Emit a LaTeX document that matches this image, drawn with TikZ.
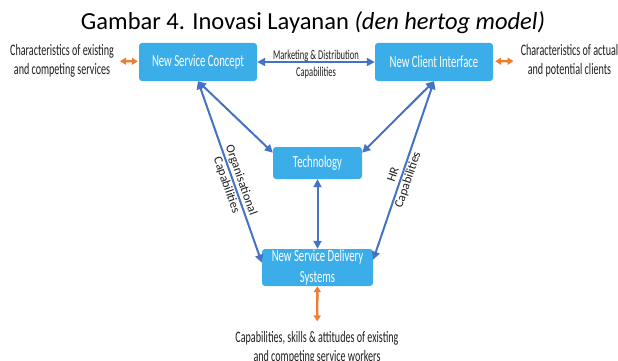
\documentclass[tikz,border=0pt]{standalone}
\usepackage{fontspec}
\setmainfont{Carlito}
\newfontfamily\narrowfont[FakeStretch=0.63]{Carlito}
\usepackage{tikz}
\usetikzlibrary{arrows.meta}
\definecolor{boxblue}{RGB}{59,174,233}
\definecolor{linkblue}{RGB}{68,114,196}
\definecolor{sideorange}{RGB}{237,125,49}
\definecolor{notegray}{RGB}{30,30,30}
\tikzset{
	box/.style={rectangle,rounded corners=3pt,fill=boxblue,text=white,inner sep=0pt,align=center,
		font=\narrowfont\fontsize{17}{21}\selectfont},
	link/.style={line width=2pt,draw=linkblue,{Triangle[length=8pt,width=8pt]}-{Triangle[length=8pt,width=8pt]}},
	side/.style={line width=2.4pt,draw=sideorange,{Triangle[length=6pt,width=7pt]}-{Triangle[length=6pt,width=7pt]}},
	note/.style={align=center,text=notegray,inner sep=2pt,font=\narrowfont\fontsize{16}{19}\selectfont},
	linklabel/.style={align=center,text=notegray,inner sep=0pt,font=\narrowfont\fontsize{13.5}{17}\selectfont},
	slopelabel/.style={align=center,text=notegray,inner sep=0pt,sloped,font=\fontsize{12.5}{15.5}\selectfont},
}
\begin{document}
\begin{tikzpicture}[x=1pt,y=-1pt]
\useasboundingbox (0,0) rectangle (618,361);

\node (title) at (313,23) {\fontsize{24.5}{27}\selectfont Gambar 4. Inovasi Layanan \textit{(den hertog model)}};

% the four boxes
\node (nsc) at (198,62) [box,minimum width=118pt,minimum height=38pt] {New Service Concept};
\node (nci) at (434,62) [box,minimum width=118pt,minimum height=38pt] {New Client Interface};
\node (tech) at (317.5,163) [box,minimum width=89pt,minimum height=32pt] {Technology};
\node (nsds) at (317.5,267.5) [box,minimum width=111pt,minimum height=37pt] {New Service Delivery\\Systems};

% outside influences
\node (exist) at (62,60.5) [note] {Characteristics of existing\\and competing services};
\node (clients) at (569.5,60.5) [note] {Characteristics of actual\\and potential clients};
\node (workers) at (317,348) [note] {Capabilities, skills \& attitudes of existing\\and competing service workers};

\draw[link] (nsc) -- (nci)
	node[midway,yshift=-2.5pt,linklabel] {Marketing \& Distribution\\Capabilities};
\draw[link] (nsc.south) -- (tech.167);
\draw[link] (nci.south) -- (tech.13);
\draw[link] (tech) -- (nsds);
\draw[link] (nsc.south) -- (nsds.175)
	node[pos=0.56,slopelabel] {Organisational\\Capabilities};
\draw[link] (nsds.8) -- (nci.south)
	node[pos=0.46,slopelabel] {HR\\Capabilities};

\draw[side,shorten <=4pt,shorten >=1pt] (exist) -- (nsc);
\draw[side,shorten <=2pt,shorten >=5pt] (nci) -- (clients);
\draw[side,shorten >=8pt] (nsds) -- (workers);
\end{tikzpicture}
\end{document}
